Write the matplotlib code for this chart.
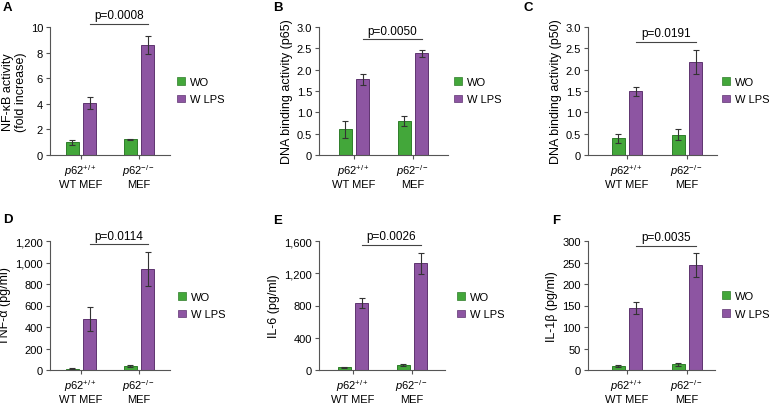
import matplotlib
matplotlib.use("Agg")
import matplotlib.pyplot as plt
from matplotlib.patches import Patch
from matplotlib.ticker import FuncFormatter

plt.rcParams["font.family"] = ["Liberation Sans", "DejaVu Sans"]
plt.rcParams["mathtext.fontset"] = "custom"
plt.rcParams["mathtext.rm"] = "Liberation Sans"
plt.rcParams["mathtext.it"] = "Liberation Sans:italic"

# ── data ─────────────────────────────────────────────────────────────────────
groups = ["$\\mathit{p62}^{+/+}$\nWT MEF", "$\\mathit{p62}^{-/-}$\nMEF"]
series = ["WO", "W LPS"]

nfkb_wo, nfkb_wo_err = [1.0, 1.22], [0.2, 0.05]
nfkb_lps, nfkb_lps_err = [4.05, 8.6], [0.47, 0.72]
p65_wo, p65_wo_err = [0.6, 0.79], [0.2, 0.12]
p65_lps, p65_lps_err = [1.77, 2.38], [0.13, 0.08]
p50_wo, p50_wo_err = [0.39, 0.48], [0.1, 0.12]
p50_lps, p50_lps_err = [1.49, 2.17], [0.11, 0.28]
tnf_wo, tnf_wo_err = [10, 34], [4, 10]
tnf_lps, tnf_lps_err = [475, 940], [108, 162]
il6_wo, il6_wo_err = [33, 58], [8, 12]
il6_lps, il6_lps_err = [833, 1322], [66, 134]
il1b_wo, il1b_wo_err = [9, 13], [2, 3]
il1b_lps, il1b_lps_err = [145, 245], [14, 28]

panel_letters = ["A", "B", "C", "D", "E", "F"]
ylabels = ["NF-κB activity\n(fold increase)", "DNA binding activity (p65)",
           "DNA binding activity (p50)", "TNF-α (pg/ml)", "IL-6 (pg/ml)",
           "IL-1β (pg/ml)"]
yticks = [[0, 2, 4, 6, 8, 10],
          [0, 0.5, 1.0, 1.5, 2.0, 2.5, 3.0],
          [0, 0.5, 1.0, 1.5, 2.0, 2.5, 3.0],
          [0, 200, 400, 600, 800, 1000, 1200],
          [0, 400, 800, 1200, 1600],
          [0, 50, 100, 150, 200, 250, 300]]
p_labels = ["p=0.0008", "p=0.0050", "p=0.0191", "p=0.0114", "p=0.0026", "p=0.0035"]
p_heights = [10.23, 2.71, 2.65, 1169, 1555, 288]

panels = [
    (nfkb_wo, nfkb_wo_err, nfkb_lps, nfkb_lps_err),
    (p65_wo, p65_wo_err, p65_lps, p65_lps_err),
    (p50_wo, p50_wo_err, p50_lps, p50_lps_err),
    (tnf_wo, tnf_wo_err, tnf_lps, tnf_lps_err),
    (il6_wo, il6_wo_err, il6_lps, il6_lps_err),
    (il1b_wo, il1b_wo_err, il1b_lps, il1b_lps_err),
]

# ── layout (pixels) ──────────────────────────────────────────────────────────
W, H = 771, 406
# left, right, tick1, tick2, top, bottom
boxes = [(50, 170, 81, 139, 28, 156),
         (319, 448, 354, 413, 28, 156),
         (588, 717, 627, 687, 28, 156),
         (50, 170, 81, 139, 242, 371),
         (319, 445, 353, 412, 242, 371),
         (588, 715, 627, 687, 242, 371)]
letter_pos = [(3, 8), (273, 8), (523, 8), (3, 220), (273, 221), (552, 221)]
legend_pos = [(177, 91.5), (454, 91.5), (722, 91.5),
              (178, 306.5), (457, 306.5), (722, 306)]

GREEN, GREEN_E = "#43a73a", "#2f7d2a"
PURPLE, PURPLE_E = "#8d55a2", "#5e3470"
AXC = "#555555"
FS = 8


def make_fmt(decimal):
    def fmt(v, _):
        if v == 0:
            return "0"
        if decimal:
            return f"{v:.1f}"
        return f"{int(round(v)):,}"
    return FuncFormatter(fmt)


fig = plt.figure(figsize=(W / 100, H / 100), dpi=100)

for i, (wo, wo_err, lps, lps_err) in enumerate(panels):
    left, right, t1, t2, top, bottom = boxes[i]
    ax = fig.add_axes([left / W, 1 - bottom / H, (right - left) / W, (bottom - top) / H])
    ppu = t2 - t1
    off = 8.7 / ppu
    bw = 13.5 / ppu
    xs = [0, 1]
    err_kw = dict(ecolor="#333333", elinewidth=0.8, capsize=2.5, capthick=0.8)
    ax.bar([x - off for x in xs], wo, bw, yerr=wo_err, color=GREEN,
           edgecolor=GREEN_E, linewidth=0.7, error_kw=err_kw, label=series[0])
    ax.bar([x + off for x in xs], lps, bw, yerr=lps_err, color=PURPLE,
           edgecolor=PURPLE_E, linewidth=0.7, error_kw=err_kw, label=series[1])

    ax.set_xlim(-(t1 - left) / ppu, 1 + (right - t2) / ppu)
    ax.set_ylim(0, yticks[i][-1])
    ax.set_yticks(yticks[i])
    ax.yaxis.set_major_formatter(make_fmt(any(v != int(v) for v in yticks[i])))
    ax.set_xticks(xs)
    ax.set_xticklabels(groups, fontsize=FS, linespacing=1.1)
    ax.tick_params(axis="both", length=3, width=0.8, color=AXC, labelsize=FS, pad=2)
    ax.tick_params(axis="x", pad=2.5)
    for s in ["top", "right"]:
        ax.spines[s].set_visible(False)
    for s in ["left", "bottom"]:
        ax.spines[s].set_color(AXC)
        ax.spines[s].set_linewidth(0.8)
    ax.set_ylabel(ylabels[i], fontsize=9, labelpad=3, linespacing=1.05)

    # significance bar
    yp = p_heights[i]
    ax.plot([0 + off, 1 + off], [yp, yp], color="#444444", lw=0.8, clip_on=False)
    ax.annotate(p_labels[i], xy=(0.5 + off, yp), xytext=(0, 2),
                textcoords="offset points", ha="center", va="bottom",
                fontsize=8.5, annotation_clip=False)

    handles = [Patch(facecolor=GREEN, edgecolor=GREEN_E, linewidth=0.5),
               Patch(facecolor=PURPLE, edgecolor=PURPLE_E, linewidth=0.5)]
    lx, ly = legend_pos[i]
    ax.legend(handles, series, loc="center left",
              bbox_to_anchor=(lx / W, 1 - ly / H), bbox_transform=fig.transFigure,
              frameon=False, fontsize=8, handlelength=0.7, handleheight=0.7,
              handletextpad=0.5, labelspacing=0.7, borderpad=0, borderaxespad=0)

    px, py = letter_pos[i]
    fig.text(px / W, 1 - py / H, panel_letters[i], fontsize=9.5, fontweight="bold",
             ha="left", va="center")

fig.savefig("out.png", dpi=100)
